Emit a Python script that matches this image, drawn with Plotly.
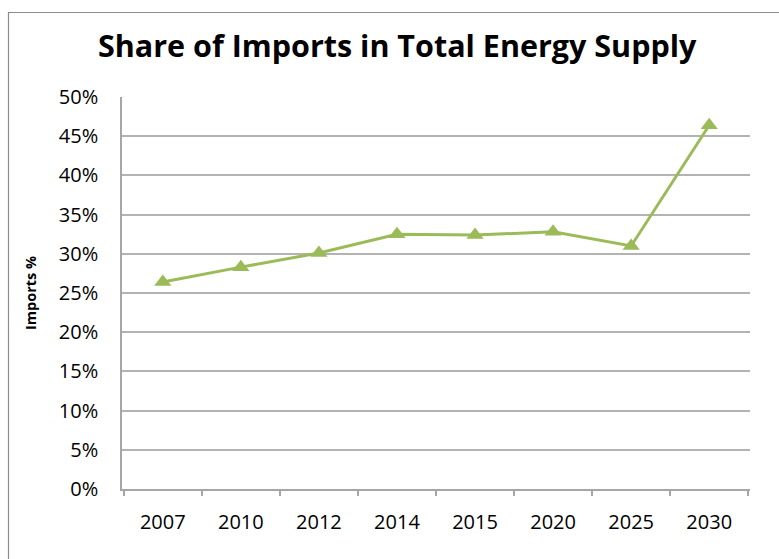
import plotly.graph_objects as go

years = ["2007", "2010", "2012", "2014", "2015", "2020", "2025", "2030"]
imports_pct = [26.4, 28.3, 30.1, 32.5, 32.4, 32.8, 31.0, 46.4]
y_ticks = [0, 5, 10, 15, 20, 25, 30, 35, 40, 45, 50]
y_tick_labels = [f"{v}%" for v in y_ticks]

W, H = 779, 559
L, R, T, B = 122, 29, 97, 70
pw, ph = W - L - R, H - T - B

def px_x(p):
    return (p - L) / pw

def px_y(p):
    return (H - B - p) / ph

FONT = "Open Sans"

fig = go.Figure()
fig.add_trace(go.Scatter(
    x=years, y=imports_pct, mode="lines+markers",
    line=dict(color="#9BBB59", width=3),
    marker=dict(symbol="triangle-up", size=15, color="#9BBB59"),
    showlegend=False, cliponaxis=False,
))

fig.update_layout(
    width=W, height=H,
    margin=dict(l=L, r=R, t=T, b=B),
    paper_bgcolor="white", plot_bgcolor="white",
    font=dict(family=FONT, color="#000000", size=20),
    xaxis=dict(
        type="category", showgrid=False, showline=True, linecolor="#A6A6A6", linewidth=1.5,
        ticks="outside", tickson="boundaries", ticklen=5, tickcolor="#A6A6A6", tickwidth=1.5,
        tickfont=dict(size=20, family=FONT), ticklabelstandoff=14, fixedrange=True,
    ),
    yaxis=dict(
        range=[0, 50], tickvals=y_ticks, ticktext=y_tick_labels,
        showgrid=True, gridcolor="#B3B3B3", gridwidth=1.5,
        showline=True, linecolor="#A6A6A6", linewidth=1.5, zeroline=False,
        ticks="", tickfont=dict(size=20, family=FONT), ticklabelstandoff=18, fixedrange=True,
    ),
    annotations=[
        dict(text="<b>Share of Imports in Total Energy Supply</b>", xref="paper", yref="paper",
             x=px_x(397), y=px_y(45), xanchor="center", yanchor="middle", showarrow=False,
             font=dict(size=30.5, family=FONT, color="#000000")),
        dict(text="<b>Imports %</b>", xref="paper", yref="paper", textangle=-90,
             x=px_x(30), y=px_y(293), xanchor="center", yanchor="middle", showarrow=False,
             font=dict(size=14.5, family=FONT, color="#000000")),
    ],
    shapes=[
        dict(type="rect", xref="paper", yref="paper",
             x0=px_x(8.5), x1=px_x(800), y0=px_y(600), y1=px_y(12.5),
             line=dict(color="#8C8C8C", width=1.2), fillcolor="rgba(0,0,0,0)", layer="below"),
    ],
)

fig.write_html("out.html", config={"displayModeBar": False},
               post_script="document.body.style.margin='0';document.body.style.overflow='hidden';")
